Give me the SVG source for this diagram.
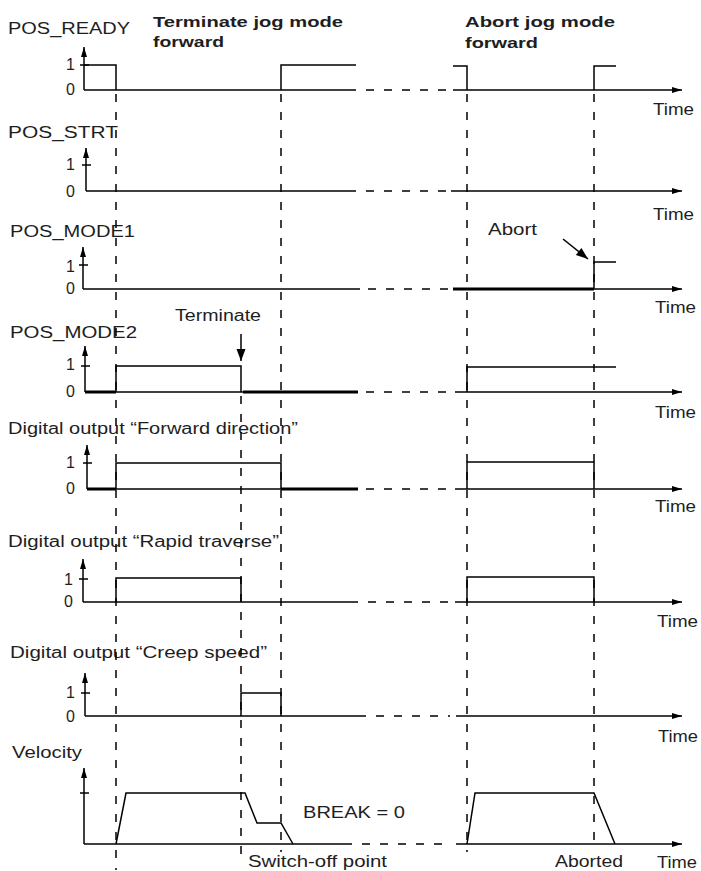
<svg xmlns="http://www.w3.org/2000/svg" width="701" height="871" viewBox="0 0 701 871">
<style>
.s{stroke:#000;stroke-width:1.5;fill:none}
.t{stroke:#000;stroke-width:3;fill:none}
.hd{stroke:#000;stroke-width:1.5;fill:none;stroke-dasharray:8 10}
.vd{stroke:#000;stroke-width:1.5;fill:none;stroke-dasharray:8 10}
text{font-family:"Liberation Sans",Arial,sans-serif;font-size:16px;fill:#1e1e1e}
.b{font-weight:bold;font-size:15.5px}
.d{text-anchor:end}
</style>
<defs>
<marker id="ah" markerUnits="userSpaceOnUse" markerWidth="11" markerHeight="8" refX="10" refY="4" orient="auto" overflow="visible"><path d="M0,1 L10,4 L0,7 z" fill="#000"/></marker>
<marker id="big" markerUnits="userSpaceOnUse" markerWidth="13" markerHeight="10" refX="12" refY="5" orient="auto" overflow="visible"><path d="M0,0.5 L12,5 L0,9.5 z" fill="#000"/></marker>
</defs>
<rect width="701" height="871" fill="#fff"/>

<g id="titles">
<text class="b" x="153" y="27" textLength="190" lengthAdjust="spacingAndGlyphs">Terminate jog mode</text>
<text class="b" x="153" y="47" textLength="71" lengthAdjust="spacingAndGlyphs">forward</text>
<text class="b" x="465" y="27" textLength="150" lengthAdjust="spacingAndGlyphs">Abort jog mode</text>
<text class="b" x="465" y="48" textLength="73" lengthAdjust="spacingAndGlyphs">forward</text>
</g>

<g id="pos_ready">
<text x="8" y="34" textLength="122" lengthAdjust="spacingAndGlyphs">POS_READY</text>
<text class="d" x="75" y="70">1</text>
<text class="d" x="75" y="95">0</text>
<text x="653" y="115" textLength="41" lengthAdjust="spacingAndGlyphs">Time</text>
<path class="s" d="M84,90 L84,47" marker-end="url(#ah)"/>
<path class="s" d="M80,65 L89,65"/>
<path class="s" d="M84,90 L356,90"/>
<path class="hd" d="M366,90 L448,90"/>
<path class="s" d="M453,90 L682,90" marker-end="url(#ah)"/>
<path class="s" d="M84,65 L116,65 L116,90 M281,90 L281,65 L356,65"/>
<path class="s" d="M453,66 L467,66 L467,90 M594,90 L594,66 L616,66"/>
</g>

<g id="pos_strt">
<text x="8" y="138" textLength="110" lengthAdjust="spacingAndGlyphs">POS_STRT</text>
<text class="d" x="75" y="170">1</text>
<text class="d" x="75" y="197">0</text>
<text x="653" y="220" textLength="41" lengthAdjust="spacingAndGlyphs">Time</text>
<path class="s" d="M86,191 L86,148" marker-end="url(#ah)"/>
<path class="s" d="M82,165 L91,165"/>
<path class="s" d="M86,191 L356,191"/>
<path class="hd" d="M366,191 L448,191"/>
<path class="s" d="M451,191 L682,191" marker-end="url(#ah)"/>
</g>

<g id="pos_mode1">
<text x="10" y="237" textLength="125" lengthAdjust="spacingAndGlyphs">POS_MODE1</text>
<text class="d" x="75" y="272">1</text>
<text class="d" x="75" y="294">0</text>
<text x="655" y="313" textLength="41" lengthAdjust="spacingAndGlyphs">Time</text>
<text x="488" y="235" textLength="49" lengthAdjust="spacingAndGlyphs">Abort</text>
<path class="s" d="M83,289 L83,247" marker-end="url(#ah)"/>
<path class="s" d="M79,265 L88,265"/>
<path class="s" d="M83,289 L360,289"/>
<path class="hd" d="M368,289 L448,289"/>
<path class="s" d="M453,289 L682,289" marker-end="url(#ah)"/>
<path class="t" d="M453,289 L594,289"/>
<path class="s" d="M594,289 L594,262 L616,262"/>
</g>

<g id="pos_mode2">
<text x="175" y="321" textLength="86" lengthAdjust="spacingAndGlyphs">Terminate</text>
<text x="10" y="338" textLength="127" lengthAdjust="spacingAndGlyphs">POS_MODE2</text>
<text class="d" x="75" y="370">1</text>
<text class="d" x="75" y="397">0</text>
<text x="655" y="418" textLength="41" lengthAdjust="spacingAndGlyphs">Time</text>
<path class="s" d="M85,392 L85,346" marker-end="url(#ah)"/>
<path class="s" d="M81,366 L90,366"/>
<path class="s" d="M85,392 L356,392"/>
<path class="t" d="M85,392 L116,392 M243,392 L358,392"/>
<path class="s" d="M116,392 L116,366 L241,366 L241,392"/>
<path class="hd" d="M366,392 L448,392"/>
<path class="s" d="M455,392 L682,392" marker-end="url(#ah)"/>
<path class="s" d="M467,392 L467,367 L616,367"/>
</g>

<g id="forward_direction">
<text x="8" y="434" textLength="290" lengthAdjust="spacingAndGlyphs">Digital output “Forward direction”</text>
<text class="d" x="75" y="468">1</text>
<text class="d" x="75" y="494">0</text>
<text x="655" y="512" textLength="41" lengthAdjust="spacingAndGlyphs">Time</text>
<path class="s" d="M87,489 L87,445" marker-end="url(#ah)"/>
<path class="s" d="M83,463 L92,463"/>
<path class="s" d="M87,489 L356,489"/>
<path class="t" d="M87,489 L116,489 M281,489 L358,489"/>
<path class="s" d="M116,489 L116,463 L281,463 L281,489"/>
<path class="hd" d="M366,489 L448,489"/>
<path class="s" d="M455,489 L682,489" marker-end="url(#ah)"/>
<path class="s" d="M467,489 L467,462 L594,462 L594,489"/>
</g>

<g id="rapid_traverse">
<text x="8" y="547" textLength="271" lengthAdjust="spacingAndGlyphs">Digital output “Rapid traverse”</text>
<text class="d" x="73" y="585">1</text>
<text class="d" x="73" y="607">0</text>
<text x="657" y="627" textLength="41" lengthAdjust="spacingAndGlyphs">Time</text>
<path class="s" d="M83,602 L83,559" marker-end="url(#ah)"/>
<path class="s" d="M79,579 L88,579"/>
<path class="s" d="M83,602 L358,602"/>
<path class="s" d="M116,602 L116,578 L241,578 L241,602"/>
<path class="hd" d="M368,602 L448,602"/>
<path class="s" d="M455,602 L682,602" marker-end="url(#ah)"/>
<path class="s" d="M467,602 L467,577 L594,577 L594,602"/>
</g>

<g id="creep_speed">
<text x="10" y="658" textLength="257" lengthAdjust="spacingAndGlyphs">Digital output “Creep speed”</text>
<text class="d" x="75" y="698">1</text>
<text class="d" x="75" y="722">0</text>
<text x="658" y="742" textLength="40" lengthAdjust="spacingAndGlyphs">Time</text>
<path class="s" d="M85,716 L85,673" marker-end="url(#ah)"/>
<path class="s" d="M81,693 L90,693"/>
<path class="s" d="M85,716 L366,716"/>
<path class="s" d="M241,716 L241,693 L281,693 L281,716"/>
<path class="hd" d="M376,716 L450,716"/>
<path class="s" d="M456,716 L682,716" marker-end="url(#ah)"/>
</g>

<g id="velocity">
<text x="12" y="758" textLength="70" lengthAdjust="spacingAndGlyphs">Velocity</text>
<text x="303" y="818" textLength="102" lengthAdjust="spacingAndGlyphs">BREAK = 0</text>
<text x="248" y="867" textLength="139" lengthAdjust="spacingAndGlyphs">Switch-off point</text>
<text x="555" y="867" textLength="68" lengthAdjust="spacingAndGlyphs">Aborted</text>
<text x="657" y="868" textLength="40" lengthAdjust="spacingAndGlyphs">Time</text>
<path class="s" d="M84,844 L84,768" marker-end="url(#ah)"/>
<path class="s" d="M80,793 L89,793"/>
<path class="s" d="M84,844 L352,844"/>
<path class="hd" d="M362,844 L450,844"/>
<path class="s" d="M456,844 L682,844" marker-end="url(#ah)"/>
<path class="s" d="M116,844 L126,793 L245,793 L257,823 L281,823 L293,844"/>
<path class="s" d="M467,844 L475,793 L594,793 L615,844"/>
</g>

<g id="connectors">
<path class="vd" d="M116,94 L116,870"/>
<path class="vd" d="M241,396 L241,856"/>
<path class="vd" d="M281,94 L281,852"/>
<path class="vd" d="M467,94 L467,852"/>
<path class="vd" d="M594,94 L594,850"/>
<path class="s" d="M241,334 L241,361" stroke-width="2" marker-end="url(#big)"/>
<path class="s" d="M563,239 L588,259" stroke-width="2" marker-end="url(#big)"/>
</g>
</svg>
